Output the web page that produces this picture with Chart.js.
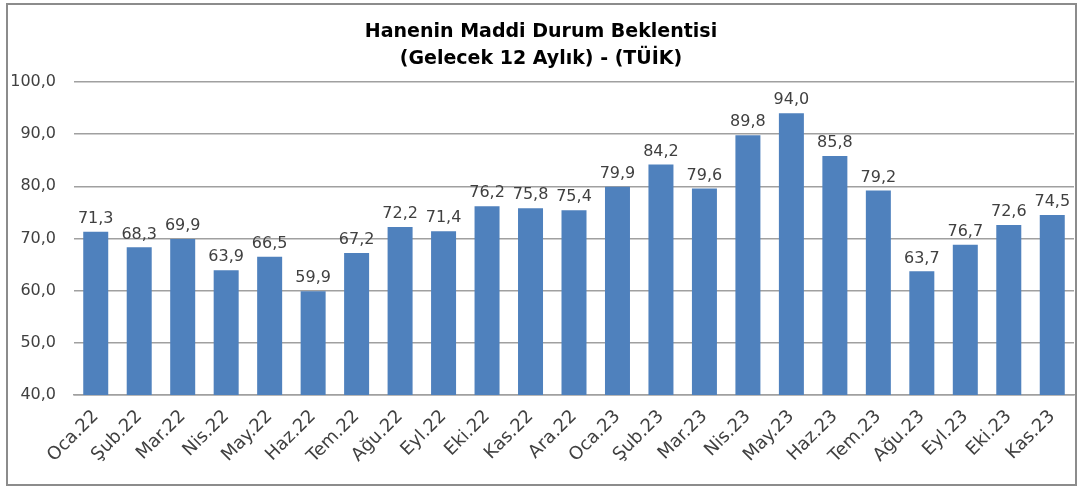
<!DOCTYPE html>
<html>
<head>
<meta charset="utf-8">
<script src="https://cdn.jsdelivr.net/npm/chart.js@4/dist/chart.umd.min.js"></script>
<style>
  body { margin: 0; background: #fff; }
  #frame {
    position: absolute; left: 6px; top: 3px;
    width: 1067px; height: 479px;
    border: 2px solid #8c8c8c;
  }
  #chart { display: block; }
</style>
</head>
<body>
<div id="frame"><canvas id="chart" width="1067" height="479"></canvas></div>
<script>
// kategoriler (aylar)
const months = ['Oca.22', 'Şub.22', 'Mar.22', 'Nis.22', 'May.22', 'Haz.22', 'Tem.22', 'Ağu.22',
  'Eyl.22', 'Eki.22', 'Kas.22', 'Ara.22', 'Oca.23', 'Şub.23', 'Mar.23', 'Nis.23', 'May.23',
  'Haz.23', 'Tem.23', 'Ağu.23', 'Eyl.23', 'Eki.23', 'Kas.23'];

// sütun yükseklikleri
const barValues = [71.3, 68.3, 69.9, 63.9, 66.5, 59.9, 67.2, 72.2, 71.4, 76.2, 75.8, 75.4,
  79.9, 84.2, 79.6, 89.8, 94.0, 85.8, 79.2, 63.7, 68.8, 72.6, 74.5];

// sütunların üstündeki etiketler (orijinalde yazan)
const labelValues = [71.3, 68.3, 69.9, 63.9, 66.5, 59.9, 67.2, 72.2, 71.4, 76.2, 75.8, 75.4,
  79.9, 84.2, 79.6, 89.8, 94.0, 85.8, 79.2, 63.7, 76.7, 72.6, 74.5];

const yTicks = [40, 50, 60, 70, 80, 90, 100];

const FONT = '"DejaVu Sans", Lato, sans-serif';

const fmt = v => v.toFixed(1).replace('.', ',');

// değer etiketleri
const barLabels = {
  id: 'barLabels',
  afterDatasetsDraw(chart) {
    const ctx = chart.ctx;
    const meta = chart.getDatasetMeta(0);
    ctx.save();
    ctx.font = '16px ' + FONT;
    ctx.fillStyle = '#404040';
    ctx.textAlign = 'center';
    ctx.textBaseline = 'bottom';
    meta.data.forEach((bar, i) => {
      ctx.fillText(fmt(labelValues[i]), bar.x, bar.y - 5);
    });
    ctx.restore();
  }
};

new Chart(document.getElementById('chart'), {
  type: 'bar',
  data: {
    labels: months,
    datasets: [{
      data: barValues,
      backgroundColor: '#4f81bd',
      borderWidth: 0,
      barPercentage: 0.575,
      categoryPercentage: 1
    }]
  },
  options: {
    responsive: false,
    animation: false,
    layout: { padding: { left: 0, right: 1, top: 0, bottom: 0 } },
    plugins: {
      legend: { display: false },
      tooltip: { enabled: false },
      title: {
        display: true,
        text: ['Hanenin Maddi Durum Beklentisi', '(Gelecek 12 Aylık) - (TÜİK)'],
        color: '#000',
        font: { family: FONT, size: 19, weight: 'bold', lineHeight: 1.42 },
        padding: { top: 14, bottom: 9 }
      }
    },
    scales: {
      x: {
        grid: { display: false },
        border: { color: '#a0a0a0', width: 1.5 },
        ticks: {
          color: '#404040',
          font: { family: FONT, size: 18 },
          maxRotation: 45,
          minRotation: 45,
          autoSkip: false,
          padding: 3
        },
        afterFit(scale) { scale.height = 89; }
      },
      y: {
        min: 40,
        max: 100,
        afterBuildTicks(scale) { scale.ticks = yTicks.map(v => ({ value: v })); },
        grid: { color: '#a0a0a0', lineWidth: 1.5, drawTicks: false },
        border: { display: false },
        ticks: {
          color: '#404040',
          font: { family: FONT, size: 16 },
          padding: 18,
          callback: v => fmt(v)
        },
        afterFit(scale) { scale.width = 66; }
      }
    }
  },
  plugins: [barLabels]
});
</script>
</body>
</html>
